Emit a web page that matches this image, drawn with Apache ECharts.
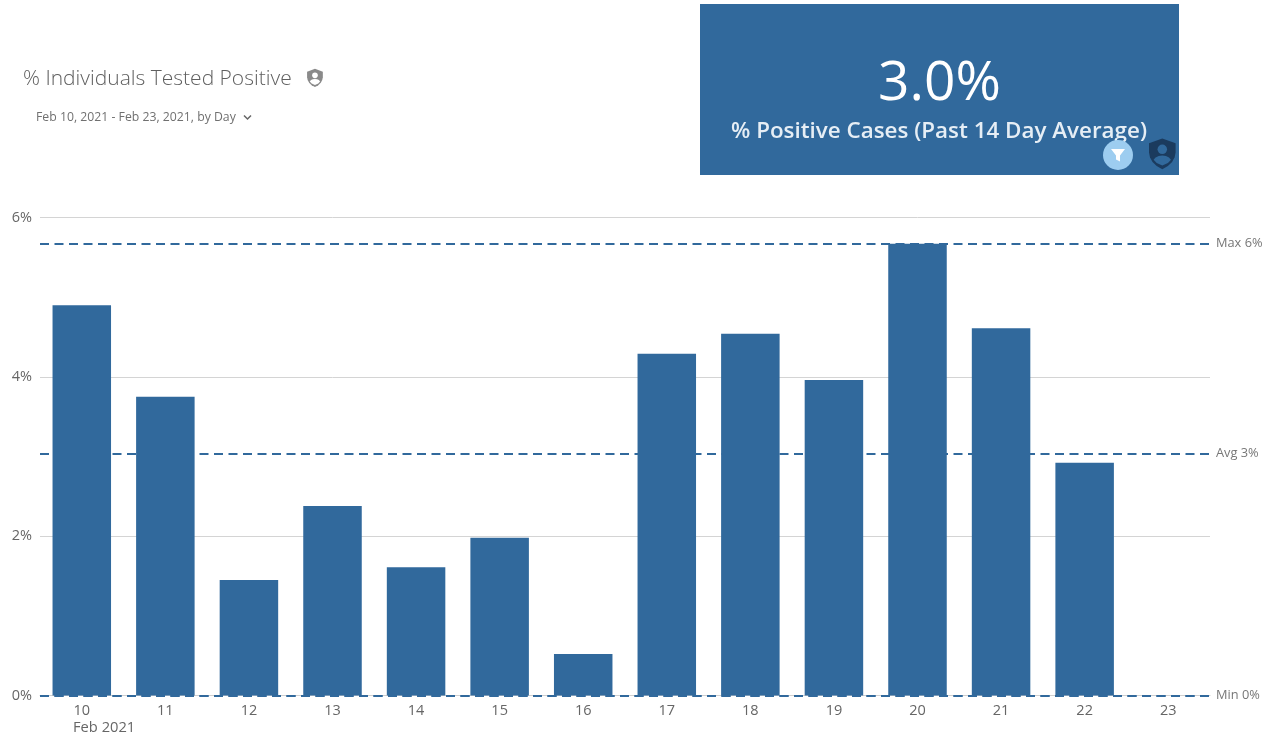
<!DOCTYPE html>
<html><head><meta charset="utf-8">
<style>html,body{margin:0;padding:0;background:#fff}#c{width:1270px;height:736px}</style>
<script src="https://cdn.jsdelivr.net/npm/echarts@6/dist/echarts.min.js"></script>
</head><body><div id="c"></div>
<script>
const days = ['10','11','12','13','14','15','16','17','18','19','20','21','22','23'];
const positivePct = [4.90,3.75,1.45,2.38,1.61,1.98,0.52,4.29,4.54,3.96,5.67,4.61,2.92,0];
const refLines = [
  {label:'Max 6%', value:5.67},
  {label:'Avg 3%', value:3.04},
  {label:'Min 0%', value:0}
];
const titleText = '% Individuals Tested Positive';
const subtitleText = 'Feb 10, 2021 - Feb 23, 2021, by Day';
const kpiValue = '3.0%';
const kpiLabel = '% Positive Cases (Past 14 Day Average)';
const monthLabel = 'Feb 2021';

const BLUE = '#31699c';
const FONT = '"Open Sans", sans-serif';
const SHIELD = [[12,1],[21.5,4.5],[21.5,11],[20.8,14.5],[19,17.8],[16,20.8],[12,23],[8,20.8],[5,17.8],[3.2,14.5],[2.5,11],[2.5,4.5]];
const BODY = [[5.8,16.2],[7.2,14.6],[9.4,13.6],[12,13.2],[14.6,13.6],[16.8,14.6],[18.2,16.2],[16,18.6],[12,20.4],[8,18.6]];

function shield(x, y, s, fill, inner, z) {
  return {type:'group', x, y, scaleX:s, scaleY:s, z, children:[
    {type:'polygon', z, shape:{points:SHIELD}, style:{fill}},
    {type:'circle', z:z+1, shape:{cx:12,cy:8.8,r:3.4}, style:{fill:inner}},
    {type:'polygon', z:z+1, shape:{points:BODY}, style:{fill:inner}}
  ]};
}

const chart = echarts.init(document.getElementById('c'), null, {renderer:'canvas'});
chart.setOption({
  animation:false,
  backgroundColor:'#fff',
  grid:{left:40,right:60,top:217.5,bottom:40.5,containLabel:false},
  xAxis:{
    type:'category', data:days,
    axisTick:{show:false},
    axisLine:{show:true,lineStyle:{color:'#cfcfcf',width:1}},
    axisLabel:{color:'#666',fontFamily:FONT,fontSize:14.5,margin:8,interval:0}
  },
  yAxis:{
    type:'value', min:0, max:6, interval:2,
    axisLine:{show:false}, axisTick:{show:false},
    axisLabel:{color:'#666',fontFamily:FONT,fontSize:14.5,margin:8,padding:[2,0,0,0],formatter:'{value}%'},
    splitLine:{lineStyle:{color:'#d4d4d4',width:1}}
  },
  series:[
    {type:'bar', z:3, data:positivePct, barWidth:'70%',
     itemStyle:{color:BLUE}, silent:true},
    {type:'line', z:1, data:[], silent:true,
     markLine:{
       silent:true, symbol:'none', z:1,
       lineStyle:{color:BLUE,type:[9,5.5],width:2},
       label:{position:'end',distance:6,color:'#777',fontFamily:FONT,fontSize:12.8,padding:[2,0,0,0],
              formatter:p=>p.name},
       data:refLines.map(r=>({name:r.label,yAxis:r.value}))
     }},
    {type:'line', z:4, data:[], silent:true,
     markLine:{
       silent:true, symbol:'none', z:4,
       lineStyle:{color:BLUE,type:[9,5.5],width:2},
       label:{show:false},
       data:[{yAxis:refLines[2].value}]
     }}
  ],
  graphic:{elements:[
    {type:'text',x:23,y:79,style:{text:titleText,fill:'#5f5f5f',font:'300 21px '+FONT,verticalAlign:'middle'}},
    shield(305,68,0.83,'#8a8a8a','#fff',5),
    {type:'text',x:36,y:118,style:{text:subtitleText,fill:'#707070',font:'12.25px '+FONT,verticalAlign:'middle'}},
    {type:'polyline',shape:{points:[[244,115.5],[247.5,119],[251,115.5]]},style:{stroke:'#666',lineWidth:1.5,fill:null}},
    {type:'rect',z:5,shape:{x:700,y:4,width:479,height:171},style:{fill:BLUE}},
    {type:'text',z:6,x:939.5,y:84,style:{text:kpiValue,fill:'#fff',font:'55px '+FONT,align:'center',verticalAlign:'middle'}},
    {type:'text',z:6,x:939,y:132,style:{text:kpiLabel,fill:'#e6eef5',font:'600 22.4px '+FONT,align:'center',verticalAlign:'middle'}},
    {type:'circle',z:8,shape:{cx:1118,cy:155,r:15},style:{fill:'#9dcdf0'}},
    {type:'polygon',z:9,shape:{points:[[1111,149],[1125,149],[1120,155.5],[1120,161.5],[1116,159.5],[1116,155.5]]},style:{fill:'#fff'}},
    shield(1145.5,137,1.4,'#1b3b5e',BLUE,8),
    {type:'text',x:73,y:728,style:{text:monthLabel,fill:'#666',font:'14.7px '+FONT,verticalAlign:'middle'}}
  ]}
});
</script></body></html>
